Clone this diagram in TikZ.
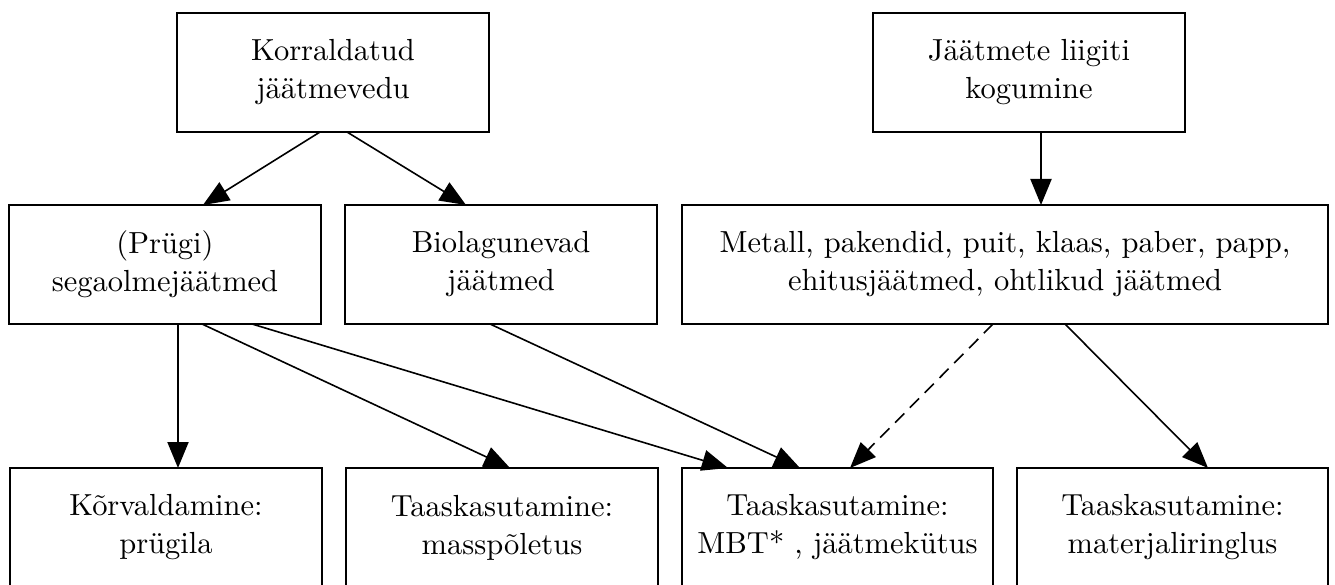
\documentclass[tikz,border=0pt]{standalone}
\usepackage{fontspec}
\setmainfont{lmroman10-regular}[Extension=.otf]
\usetikzlibrary{arrows.meta}
\begin{document}
\begin{tikzpicture}[x=1pt,y=-1pt,
  box/.style={draw=black,line width=2.3pt,inner sep=0pt,outer sep=0pt,
    minimum height=119pt,align=center,font=\fontsize{30.5}{38}\selectfont},
  narrow/.style={box,minimum width=312pt},
  wide/.style={box,minimum width=646pt},
  arr/.style={line width=1.6pt,-{Triangle[length=26pt,width=21pt]}},
  darr/.style={arr,dash pattern=on 13pt off 8pt}]
\useasboundingbox (0,0) rectangle (1335,585);
% row 1
\node[narrow] (korr) at (333,72.5) {Korraldatud\\jäätmevedu};
\node[narrow] (liig) at (1029,72.5) {Jäätmete liigiti\\kogumine};
% row 2
\node[narrow] (prugi) at (165,264.5) {(Prügi)\\segaolmejäätmed};
\node[narrow] (bio) at (501,264.5) {Biolagunevad\\jäätmed};
\node[wide] (met) at (1005,264.5) {Metall, pakendid, puit, klaas, paber, papp,\\ehitusjäätmed, ohtlikud jäätmed};
% row 3
\node[narrow] (korv) at (166,527.5) {Kõrvaldamine:\\prügila};
\node[narrow] (mass) at (502,527.5) {Taaskasutamine:\\masspõletus};
\node[box,minimum width=311pt] (mbt) at (837.5,527.5) {Taaskasutamine:\\MBT* , jäätmekütus};
\node[box,minimum width=311pt] (mat) at (1172.5,527.5) {Taaskasutamine:\\materjaliringlus};
% connectors
\draw[arr] ([xshift=-13pt]korr.south) -- ([xshift=38pt]prugi.north);
\draw[arr] ([xshift=14pt]korr.south) -- ([xshift=-35pt]bio.north);
\draw[arr,line width=2pt] ([xshift=12pt]liig.south) -- ([xshift=36pt]met.north);
\draw[arr,line width=2pt] ([xshift=13pt]prugi.south) -- ([xshift=12pt]korv.north);
\draw[arr] ([xshift=37pt]prugi.south) -- ([xshift=8pt]mass.north);
\draw[arr] ([xshift=87pt]prugi.south) -- ([xshift=-109.5pt]mbt.north);
\draw[arr] ([xshift=-11pt]bio.south) -- ([xshift=-37.5pt]mbt.north);
\draw[darr] ([xshift=-12pt]met.south) -- ([xshift=12.5pt]mbt.north);
\draw[arr] ([xshift=60pt]met.south) -- ([xshift=35.5pt]mat.north);
\end{tikzpicture}
\end{document}
